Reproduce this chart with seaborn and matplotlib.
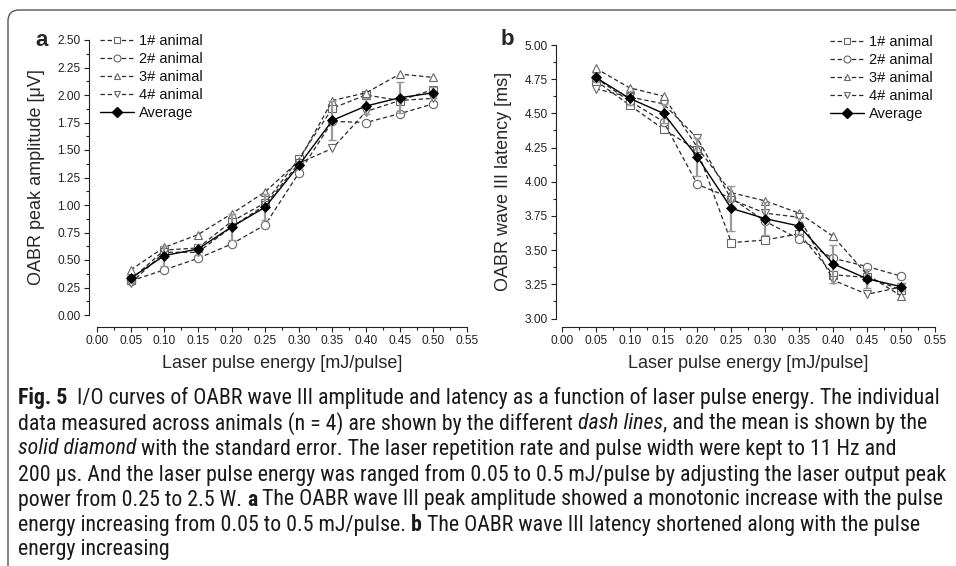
import numpy as np
import pandas as pd
import seaborn as sns
import matplotlib
matplotlib.use("Agg")
import matplotlib.pyplot as plt
from matplotlib.lines import Line2D
from matplotlib.patches import FancyBboxPatch
from matplotlib.transforms import IdentityTransform
from matplotlib.ticker import MultipleLocator, AutoMinorLocator, FormatStrFormatter
from matplotlib import font_manager

# ---------------- data ----------------
energy = [0.05, 0.10, 0.15, 0.20, 0.25, 0.30, 0.35, 0.40, 0.45, 0.50]
series_labels = ["1# animal", "2# animal", "3# animal", "4# animal"]

amp_1 = [0.32, 0.59, 0.61, 0.85, 1.02, 1.42, 1.88, 2.00, 1.95, 2.05]
amp_2 = [0.31, 0.41, 0.515, 0.645, 0.82, 1.29, 1.76, 1.75, 1.83, 1.92]
amp_3 = [0.41, 0.615, 0.73, 0.92, 1.12, 1.40, 1.95, 2.02, 2.19, 2.16]
amp_4 = [0.29, 0.57, 0.57, 0.80, 1.00, 1.38, 1.515, 1.85, 1.95, 1.97]
amp_avg = [0.333, 0.54, 0.60, 0.80, 0.98, 1.36, 1.77, 1.90, 1.975, 2.02]
amp_err = [0.03, 0.09, 0.05, 0.12, 0.12, 0.03, 0.18, 0.07, 0.14, 0.05]

lat_1 = [4.74, 4.56, 4.385, 4.23, 3.555, 3.574, 3.62, 3.32, 3.30, 3.21]
lat_2 = [4.76, 4.59, 4.44, 3.98, 3.88, 3.71, 3.58, 3.44, 3.38, 3.31]
lat_3 = [4.83, 4.687, 4.626, 4.25, 3.92, 3.86, 3.77, 3.60, 3.32, 3.165]
lat_4 = [4.68, 4.62, 4.57, 4.317, 3.87, 3.77, 3.74, 3.28, 3.177, 3.23]
lat_avg = [4.763, 4.61, 4.50, 4.18, 3.805, 3.73, 3.676, 3.40, 3.29, 3.233]
lat_err = [0.03, 0.05, 0.07, 0.14, 0.165, 0.12, 0.06, 0.14, 0.07, 0.03]

caption_lines = [
    [("Fig. 5", "bold"), ("  I/O curves of OABR wave III amplitude and latency as a function of laser pulse energy. The individual", "normal")],
    [("data measured across animals (n = 4) are shown by the different ", "normal"), ("dash lines", "italic"), (", and the mean is shown by the", "normal")],
    [("solid diamond", "italic"), (" with the standard error. The laser repetition rate and pulse width were kept to 11 Hz and", "normal")],
    [("200 \u03bcs. And the laser pulse energy was ranged from 0.05 to 0.5 mJ/pulse by adjusting the laser output peak", "normal")],
    [("power from 0.25 to 2.5 W. ", "normal"), ("a", "bold"), (" The OABR wave III peak amplitude showed a monotonic increase with the pulse", "normal")],
    [("energy increasing from 0.05 to 0.5 mJ/pulse. ", "normal"), ("b", "bold"), (" The OABR wave III latency shortened along with the pulse", "normal")],
    [("energy increasing", "normal")],
]

# ---------------- style ----------------
sns.set_style("ticks")
plt.rcParams["font.family"] = ["Liberation Sans", "DejaVu Sans"]
plt.rcParams["axes.linewidth"] = 0.8

W, H = 956, 566
PT = 0.72  # points per pixel at 100 dpi
fig = plt.figure(figsize=(W / 100, H / 100), dpi=100)
fig.patch.set_facecolor("white")


def px_axes(x0, y0, x1, y1):
    return fig.add_axes([x0 / W, 1 - y1 / H, (x1 - x0) / W, (y1 - y0) / H])


axa = px_axes(97, 40, 467, 315)
axb = px_axes(561.7, 45, 935, 318.5)

markers = ["s", "o", "^", "v"]
line_col = "#2a2a2a"
edge_col = "#666666"
dash = (0, (3.5, 2.2))


def draw_panel(ax, indiv, avg, err):
    for vals, mk in zip(indiv, markers):
        sns.lineplot(x=energy, y=vals, ax=ax, estimator=None, sort=False,
                     color=line_col, linestyle=dash, linewidth=0.9,
                     marker=mk, markersize=6, markerfacecolor="white",
                     markeredgecolor=edge_col, markeredgewidth=0.8,
                     legend=False, zorder=2)
    ax.errorbar(energy, avg, yerr=err, fmt="none", ecolor="#9a9a9a",
                elinewidth=1.6, capsize=3, capthick=1.0, zorder=3)
    sns.lineplot(x=energy, y=avg, ax=ax, estimator=None, sort=False,
                 color="black", linewidth=1.0, marker="D", markersize=5.5,
                 markerfacecolor="black", markeredgecolor="black",
                 markeredgewidth=0.5, legend=False, zorder=4)


draw_panel(axa, [amp_1, amp_2, amp_3, amp_4], amp_avg, amp_err)
draw_panel(axb, [lat_1, lat_2, lat_3, lat_4], lat_avg, lat_err)


def style_axes(ax, ylim, left_off_px, bottom_off_px):
    ax.set_xlim(0, 0.55)
    ax.set_ylim(*ylim)
    ax.xaxis.set_major_locator(MultipleLocator(0.05))
    ax.xaxis.set_minor_locator(AutoMinorLocator(2))
    ax.yaxis.set_major_locator(MultipleLocator(0.25))
    ax.yaxis.set_minor_locator(AutoMinorLocator(2))
    ax.xaxis.set_major_formatter(FormatStrFormatter("%.2f"))
    ax.yaxis.set_major_formatter(FormatStrFormatter("%.2f"))
    for s in ["top", "right"]:
        ax.spines[s].set_visible(False)
    ax.spines["left"].set_position(("outward", left_off_px * PT))
    ax.spines["bottom"].set_position(("outward", bottom_off_px * PT))
    ax.spines["left"].set_color("#222222")
    ax.spines["bottom"].set_color("#222222")
    ax.tick_params(which="major", direction="out", length=5 * PT, width=0.8,
                   labelsize=8.6, colors="#222222", pad=3.5 * PT)
    ax.tick_params(which="minor", direction="out", length=3 * PT, width=0.8,
                   colors="#222222")
    ax.patch.set_visible(False)


style_axes(axa, (0, 2.5), 8, 12)
style_axes(axb, (3.0, 5.0), 5.7, 8.2)

axa.set_xlabel("Laser pulse energy [mJ/pulse]", fontsize=13)
axa.set_ylabel("OABR peak amplitude [\u03bcV]", fontsize=13)
axb.set_xlabel("Laser pulse energy [mJ/pulse]", fontsize=13)
axb.set_ylabel("OABR wave III latency [ms]", fontsize=13)
for ax, xc, yc in [(axa, (37 - 97) / 370, (315 - 364) / 275),
                   (axb, (503 - 561.7) / 373.3, (318.5 - 364) / 273.5)]:
    ax.yaxis.label.set_va("center")
    ax.xaxis.label.set_va("center")
    ax.yaxis.set_label_coords(xc, 0.5)
    ax.xaxis.set_label_coords(0.5, yc)

# legends
handles = [Line2D([], [], color=line_col, linestyle=dash, linewidth=0.9,
                  marker=mk, markersize=5, markerfacecolor="white",
                  markeredgecolor=edge_col, markeredgewidth=0.8)
           for mk in markers]
handles.append(Line2D([], [], color="black", linewidth=1.0, marker="D",
                      markersize=5, markerfacecolor="black",
                      markeredgecolor="black"))
labels = series_labels + ["Average"]
for ax, lx, ly in [(axa, 100, 34), (axb, 830, 35)]:
    leg = ax.legend(handles, labels, loc="upper left",
                    bbox_to_anchor=(lx / W, 1 - ly / H),
                    bbox_transform=fig.transFigure, frameon=False,
                    fontsize=10.5, handlelength=2.3, handletextpad=0.35,
                    labelspacing=0.27, borderpad=0, borderaxespad=0,
                    numpoints=1)
    for t in leg.get_texts():
        t.set_color("#111111")

# panel letters
fig.text(35 / W, 1 - 46 / H, "a", fontsize=16, fontweight="bold",
         ha="left", va="baseline")
fig.text(501 / W, 1 - 45 / H, "b", fontsize=16, fontweight="bold",
         ha="left", va="baseline")

# frame
frame = FancyBboxPatch((8, -60), 1100, 566 - 10 + 60,
                       boxstyle="round,pad=0,rounding_size=11",
                       transform=IdentityTransform(), fill=False,
                       edgecolor="#555555", linewidth=1.0)
fig.add_artist(frame)


# caption
def has_font(name):
    try:
        font_manager.findfont(font_manager.FontProperties(family=name),
                              fallback_to_default=False)
        return True
    except Exception:
        return False


cap_fam = None
for cand in ["Liberation Sans Narrow", "Roboto Condensed", "Open Sans Condensed", "Noto Sans Condensed"]:
    if has_font(cand):
        cap_fam = [cand, "DejaVu Sans"]
        break
if cap_fam is None:
    cap_fam = ["Liberation Sans", "DejaVu Sans"]

renderer = fig.canvas.get_renderer()


def text_w(s, size, style):
    if s.strip() == "":
        return 0.0
    kw = dict(fontsize=size, family=cap_fam)
    if style == "bold":
        kw["fontweight"] = "bold"
    if style == "italic":
        kw["fontstyle"] = "italic"
    t = fig.text(0, 0, s.strip(), **kw)
    w = t.get_window_extent(renderer).width
    t.remove()
    return w


def space_w(size, style):
    return text_w("a a", size, style) - text_w("aa", size, style)


def line_width(line, size):
    tot = 0.0
    for s, st in line:
        lead = len(s) - len(s.lstrip(" "))
        trail = len(s) - len(s.rstrip(" "))
        sw = space_w(size, st)
        tot += lead * sw + text_w(s, size, st) + trail * sw
    return tot


base = 12.0
w0 = line_width(caption_lines[0], base)
cap_size = base * 922.0 / w0

x_start = 18
line_centers = [398, 423.5, 449, 474.5, 500, 525, 550]
for line, yc in zip(caption_lines, line_centers):
    x = x_start
    for s, st in line:
        sw = space_w(cap_size, st)
        lead = len(s) - len(s.lstrip(" "))
        trail = len(s) - len(s.rstrip(" "))
        x += lead * sw
        kw = dict(fontsize=cap_size, family=cap_fam, color="#1a1a1a")
        if st == "bold":
            kw["fontweight"] = "bold"
        if st == "italic":
            kw["fontstyle"] = "italic"
        core = s.strip()
        if core:
            fig.text(x / W, 1 - yc / H, core, ha="left", va="center", **kw)
            x += text_w(core, cap_size, st)
        x += trail * sw

fig.savefig("out.png", dpi=100)
